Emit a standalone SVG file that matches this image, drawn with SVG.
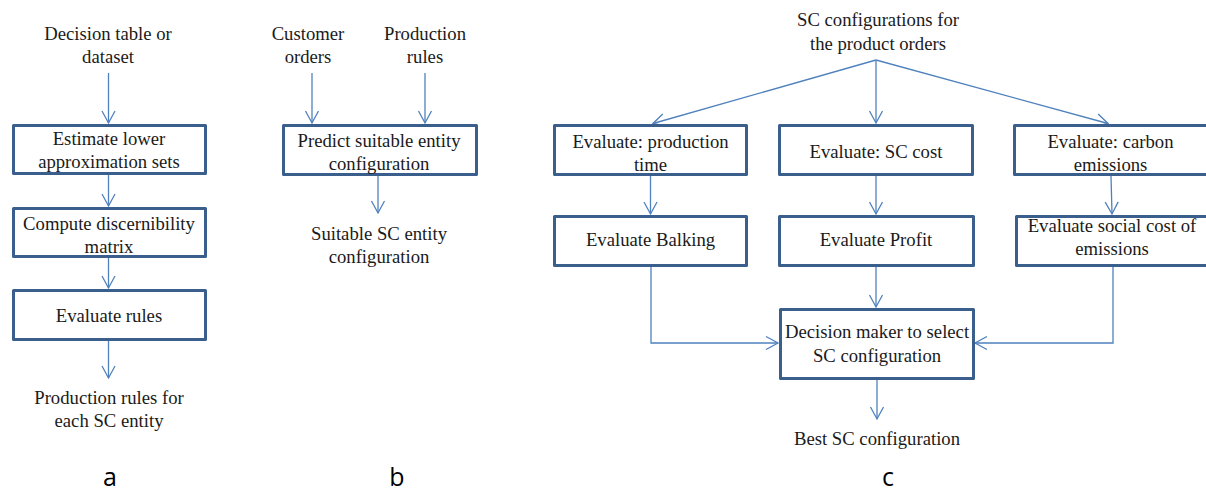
<svg xmlns="http://www.w3.org/2000/svg" width="1206" height="493" viewBox="0 0 1206 493">
<style>
.box{fill:#fff;stroke:#3A5F8C;stroke-width:3;stroke-linejoin:round}
.t{font-family:"Liberation Serif","Times New Roman",serif;font-size:18.7px;fill:#1a1a1a;text-anchor:middle}
.lbl{font-family:"Open Sans","DejaVu Sans",sans-serif;font-size:25px;fill:#000;text-anchor:middle}
.c{fill:none;stroke:#4F81BD;stroke-width:1.3}
</style>
<defs>
<marker id="ah" markerUnits="userSpaceOnUse" markerWidth="16" markerHeight="16" viewBox="-13 -8 15 16" refX="0" refY="0" orient="auto">
<path d="M-12,-6.5 L0,0 L-12,6.5" fill="none" stroke="#4F81BD" stroke-width="1.3"/>
</marker>
</defs>
<rect width="1206" height="493" fill="#fff"/>

<g id="connectors">
<path class="c" d="M108.5,73 V123" marker-end="url(#ah)"/>
<path class="c" d="M108.5,175 V206" marker-end="url(#ah)"/>
<path class="c" d="M108.5,258 V288" marker-end="url(#ah)"/>
<path class="c" d="M108.5,341 V378" marker-end="url(#ah)"/>
<path class="c" d="M312,73 V123" marker-end="url(#ah)"/>
<path class="c" d="M425,73 V123" marker-end="url(#ah)"/>
<path class="c" d="M378,176 V213" marker-end="url(#ah)"/>
<path class="c" d="M876,60 L653,123.5" marker-end="url(#ah)"/>
<path class="c" d="M876,60 V123" marker-end="url(#ah)"/>
<path class="c" d="M876,60 L1108,123.5" marker-end="url(#ah)"/>
<path class="c" d="M650.5,176 V214" marker-end="url(#ah)"/>
<path class="c" d="M876,176 V214" marker-end="url(#ah)"/>
<path class="c" d="M1111,176 L1112,214" marker-end="url(#ah)"/>
<path class="c" d="M651,267 V343 H778" marker-end="url(#ah)"/>
<path class="c" d="M876,267 V307" marker-end="url(#ah)"/>
<path class="c" d="M1113,267 V343 H975" marker-end="url(#ah)"/>
<path class="c" d="M877,380 V419" marker-end="url(#ah)"/>
</g>

<g id="a-input"><text class="t" x="108" y="40">Decision table or</text><text class="t" x="108" y="63">dataset</text></g>
<g id="a-box1"><rect class="box" x="13.5" y="125.5" width="192" height="48"/><text class="t" x="109" y="145">Estimate lower</text><text class="t" x="109" y="168">approximation sets</text></g>
<g id="a-box2"><rect class="box" x="13.5" y="208.5" width="192" height="48"/><text class="t" x="109" y="230">Compute discernibility</text><text class="t" x="109" y="253">matrix</text></g>
<g id="a-box3"><rect class="box" x="13.5" y="290.5" width="192" height="49"/><text class="t" x="109" y="322">Evaluate rules</text></g>
<g id="a-output"><text class="t" x="109" y="404">Production rules for</text><text class="t" x="109" y="427">each SC entity</text></g>
<g id="label-a"><text class="lbl" x="110" y="486">a</text></g>

<g id="b-orders"><text class="t" x="308" y="40">Customer</text><text class="t" x="308" y="63">orders</text></g>
<g id="b-rules"><text class="t" x="425" y="40">Production</text><text class="t" x="425" y="63">rules</text></g>
<g id="b-box"><rect class="box" x="283.5" y="125.5" width="193" height="49"/><text class="t" x="379" y="147">Predict suitable entity</text><text class="t" x="379" y="170">configuration</text></g>
<g id="b-output"><text class="t" x="379" y="240">Suitable SC entity</text><text class="t" x="379" y="263">configuration</text></g>
<g id="label-b"><text class="lbl" x="397" y="486">b</text></g>

<g id="c-input"><text class="t" x="878" y="26">SC configurations for</text><text class="t" x="878" y="50">the product orders</text></g>
<g id="c-time"><rect class="box" x="554.5" y="125.5" width="192" height="49"/><text class="t" x="650.5" y="148">Evaluate: production</text><text class="t" x="650.5" y="171">time</text></g>
<g id="c-cost"><rect class="box" x="779.5" y="125.5" width="193" height="49"/><text class="t" x="876" y="158">Evaluate: SC cost</text></g>
<g id="c-carbon"><rect class="box" x="1014.5" y="125.5" width="200" height="49"/><text class="t" x="1110.5" y="148">Evaluate: carbon</text><text class="t" x="1110.5" y="171">emissions</text></g>
<g id="c-balking"><rect class="box" x="554.5" y="216.5" width="192" height="49"/><text class="t" x="650.5" y="246">Evaluate Balking</text></g>
<g id="c-profit"><rect class="box" x="779.5" y="216.5" width="194" height="49"/><text class="t" x="876" y="246">Evaluate Profit</text></g>
<g id="c-social"><rect class="box" x="1016.5" y="216.5" width="200" height="49"/><text class="t" x="1112" y="232">Evaluate social cost of</text><text class="t" x="1112" y="255">emissions</text></g>
<g id="c-decision"><rect class="box" x="780.5" y="309.5" width="193" height="69"/><text class="t" x="877" y="338">Decision maker to select</text><text class="t" x="877" y="362">SC configuration</text></g>
<g id="c-output"><text class="t" x="877" y="445">Best SC configuration</text></g>
<g id="label-c"><text class="lbl" x="888" y="486">c</text></g>
</svg>
